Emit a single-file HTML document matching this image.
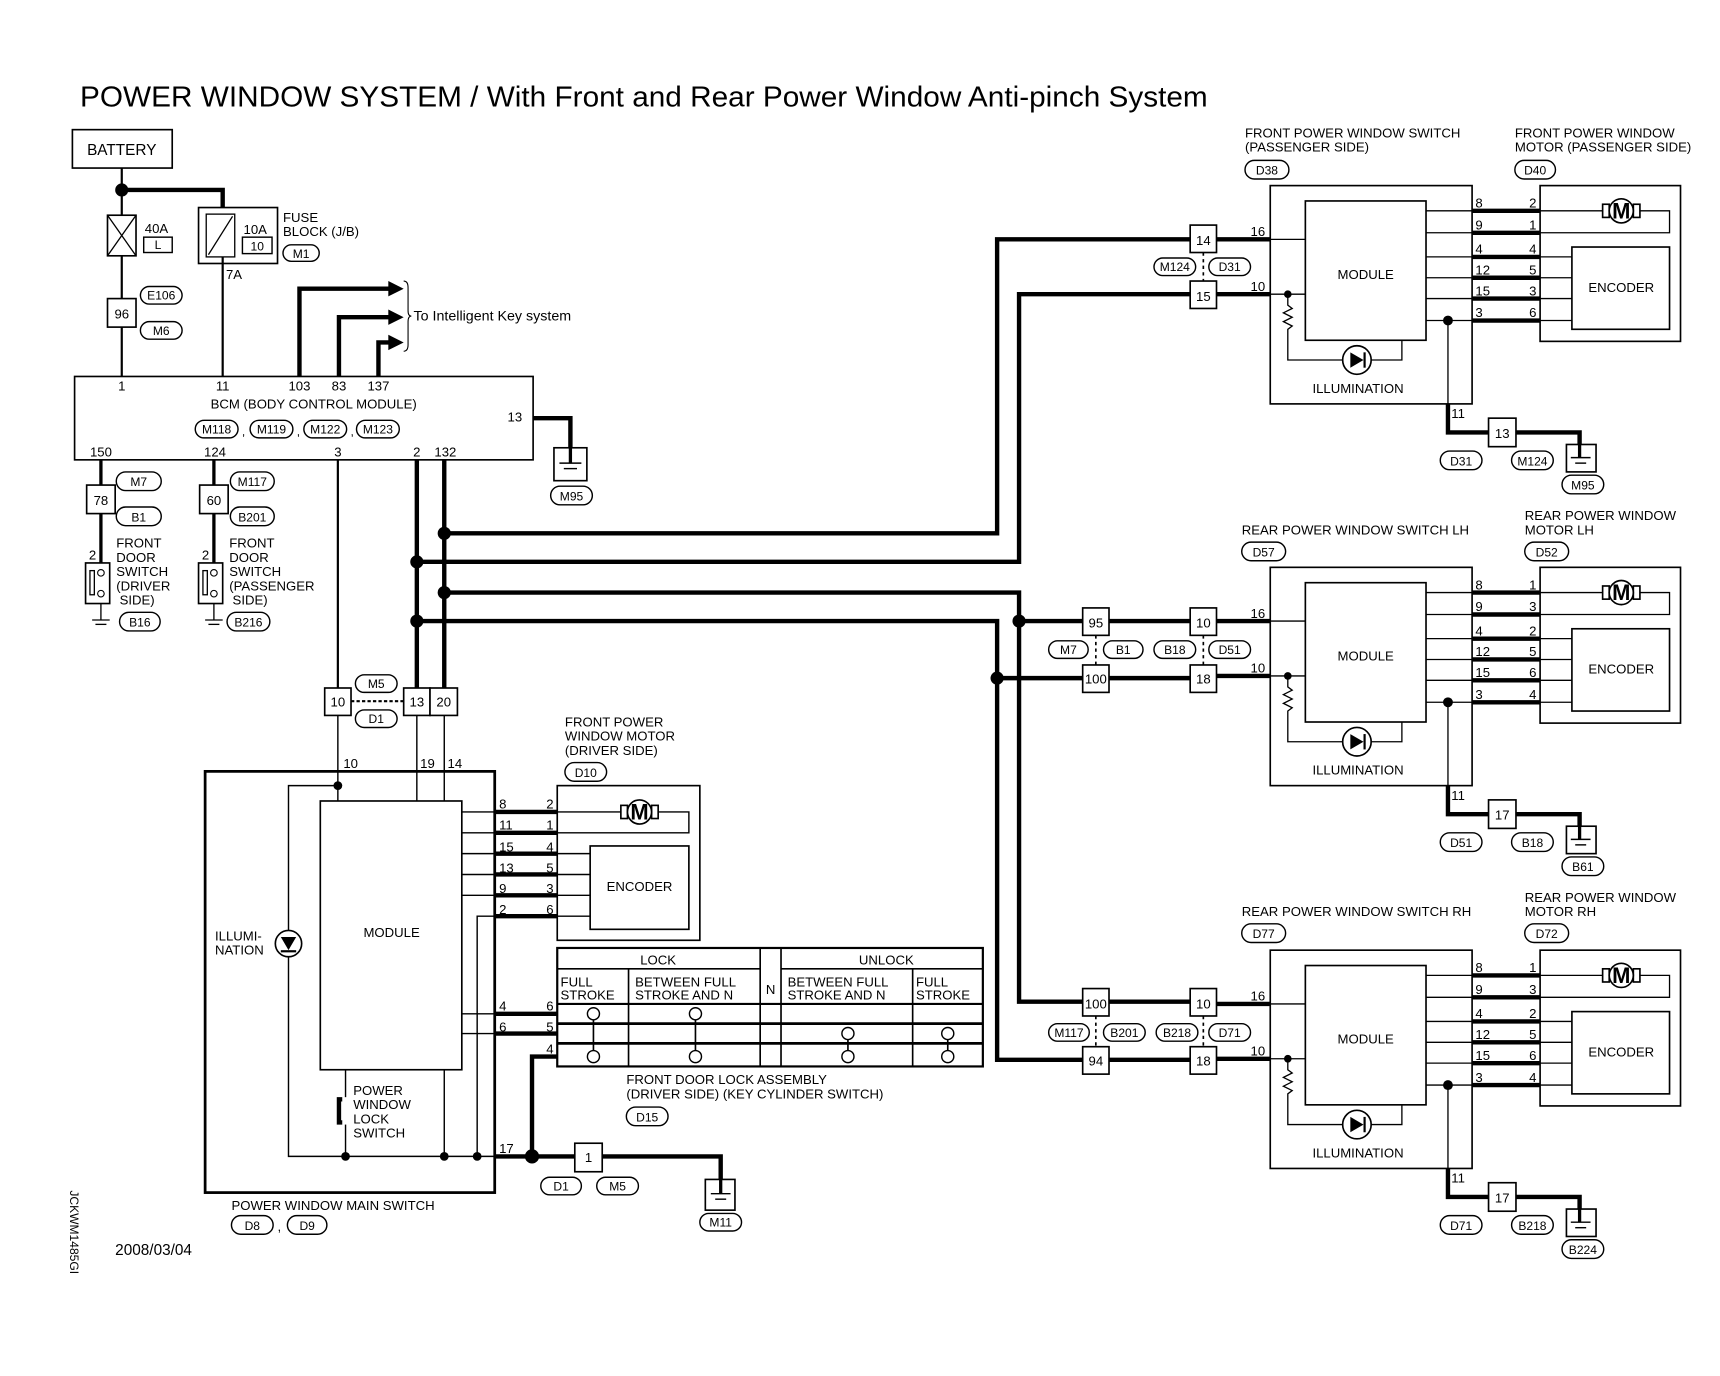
<!DOCTYPE html>
<html><head><meta charset="utf-8"><style>
html,body{margin:0;padding:0;background:#fff;}
svg{display:block;}
text{font-family:"Liberation Sans",Arial,sans-serif;fill:#000;}
</style></head><body>
<svg width="1720" height="1376" viewBox="0 0 1568 1254" xmlns="http://www.w3.org/2000/svg">
<defs>
<g id="sw">
  <rect x="1158" y="169" width="184" height="199" fill="none" stroke="#000" stroke-width="1.5"/>
  <rect x="1190" y="183" width="110" height="127" fill="none" stroke="#000" stroke-width="1.5"/>
  <g stroke="#000" stroke-width="1.2">
    <line x1="1300" y1="192" x2="1342" y2="192"/><line x1="1300" y1="212" x2="1342" y2="212"/>
    <line x1="1300" y1="234" x2="1342" y2="234"/><line x1="1300" y1="253" x2="1342" y2="253"/>
    <line x1="1300" y1="272" x2="1342" y2="272"/><line x1="1300" y1="292" x2="1342" y2="292"/>
    <line x1="1158" y1="218" x2="1190" y2="218"/><line x1="1158" y1="268" x2="1190" y2="268"/>
    <line x1="1404" y1="234" x2="1433" y2="234"/><line x1="1404" y1="253" x2="1433" y2="253"/>
    <line x1="1404" y1="272" x2="1433" y2="272"/><line x1="1404" y1="292" x2="1433" y2="292"/>
    <polyline points="1495,192 1522,192 1522,212 1404,212" fill="none"/>
    <line x1="1404" y1="192" x2="1461" y2="192"/>
    <polyline points="1174,268 1174,278 1178,281 1170,285 1178,289 1170,293 1178,297 1174,300 1174,328 1278,328 1278,310" fill="none"/>
    <line x1="1320" y1="292" x2="1320" y2="370"/>
  </g>
  <g stroke="#000" stroke-width="4">
    <line x1="1342" y1="192" x2="1404" y2="192"/><line x1="1342" y1="212" x2="1404" y2="212"/>
    <line x1="1342" y1="234" x2="1404" y2="234"/><line x1="1342" y1="253" x2="1404" y2="253"/>
    <line x1="1342" y1="272" x2="1404" y2="272"/><line x1="1342" y1="292" x2="1404" y2="292"/>
    <line x1="1109" y1="218" x2="1158" y2="218"/><line x1="1109" y1="268" x2="1158" y2="268"/>
    <polyline points="1320,368 1320,394 1357,394" fill="none"/>
    <polyline points="1382,394 1440,394 1440,416" fill="none"/>
  </g>
  <rect x="1404" y="169" width="128" height="142" fill="none" stroke="#000" stroke-width="1.5"/>
  <rect x="1433" y="225" width="89" height="75" fill="none" stroke="#000" stroke-width="1.5"/>
  <rect x="1461" y="186" width="6" height="12" fill="#fff" stroke="#000" stroke-width="1.5"/>
  <rect x="1489" y="186" width="6" height="12" fill="#fff" stroke="#000" stroke-width="1.5"/>
  <circle cx="1478" cy="192" r="11" fill="#fff" stroke="#000" stroke-width="1.5"/>
  <circle cx="1237" cy="328" r="13" fill="#fff" stroke="#000" stroke-width="1.5"/>
  <polygon points="1231,321 1231,335 1243,328" fill="#000"/>
  <line x1="1244" y1="321" x2="1244" y2="335" stroke="#000" stroke-width="2"/>
  <circle cx="1174" cy="268" r="3.5" fill="#000"/>
  <circle cx="1320" cy="292" r="4.5" fill="#000"/>
  <rect x="1357" y="381" width="25" height="26" fill="#fff" stroke="#000" stroke-width="1.5"/>
  <rect x="1428" y="405" width="27" height="25" fill="#fff" stroke="#000" stroke-width="1.5"/>
  <line x1="1440" y1="405" x2="1440" y2="417" stroke="#000" stroke-width="3"/>
  <line x1="1432" y1="417" x2="1450" y2="417" stroke="#000" stroke-width="1.3"/>
  <line x1="1436" y1="422" x2="1446" y2="422" stroke="#000" stroke-width="1.3"/>
</g>
</defs>

<text x="73" y="97" font-size="26" textLength="1028" lengthAdjust="spacingAndGlyphs">POWER WINDOW SYSTEM / With Front and Rear Power Window Anti-pinch System</text>

<!-- battery & fuses -->
<rect x="66" y="118" width="91" height="35" fill="none" stroke="#000" stroke-width="1.5"/>
<text x="111" y="141" font-size="14" text-anchor="middle">BATTERY</text>
<g stroke="#000" stroke-width="2">
<line x1="111" y1="153" x2="111" y2="196"/>
<line x1="111" y1="233" x2="111" y2="343"/>
<line x1="203" y1="240" x2="203" y2="343"/>
</g>
<polyline points="111,173 203,173 203,189" fill="none" stroke="#000" stroke-width="4"/>
<circle cx="111" cy="173" r="6" fill="#000"/>
<rect x="98" y="196" width="26" height="37" fill="#fff" stroke="#000" stroke-width="1.5"/>
<line x1="98" y1="196" x2="124" y2="233" stroke="#000" stroke-width="1.2"/>
<line x1="124" y1="196" x2="98" y2="233" stroke="#000" stroke-width="1.2"/>
<text x="132" y="212" font-size="12">40A</text>
<rect x="131" y="216" width="26" height="14" fill="none" stroke="#000" stroke-width="1.3"/>
<text x="144" y="227" font-size="11" text-anchor="middle">L</text>
<rect x="181" y="189" width="72" height="51" fill="#fff" stroke="#000" stroke-width="1.5"/>
<rect x="188" y="195" width="26" height="39" fill="none" stroke="#000" stroke-width="1.2"/>
<line x1="190" y1="232" x2="212" y2="197" stroke="#000" stroke-width="1.2"/>
<line x1="203" y1="234" x2="203" y2="240" stroke="#000" stroke-width="2"/>
<text x="222" y="213" font-size="12">10A</text>
<rect x="221" y="216" width="27" height="15" fill="none" stroke="#000" stroke-width="1.3"/>
<text x="234.5" y="228" font-size="11" text-anchor="middle">10</text>
<text x="258" y="202" font-size="12">FUSE</text>
<text x="258" y="215" font-size="12">BLOCK (J/B)</text>
<rect x="258" y="223" width="33" height="15" rx="7.5" fill="none" stroke="#000" stroke-width="1.3"/>
<text x="274.5" y="235" font-size="11" text-anchor="middle">M1</text>
<text x="206" y="254" font-size="12">7A</text>
<rect x="98" y="272" width="26" height="26" fill="#fff" stroke="#000" stroke-width="1.5"/>
<text x="111" y="290" font-size="12" text-anchor="middle">96</text>
<rect x="128" y="261" width="38" height="16" rx="8" fill="none" stroke="#000" stroke-width="1.3"/>
<text x="147" y="273" font-size="11" text-anchor="middle">E106</text>
<rect x="128" y="293" width="38" height="16" rx="8" fill="none" stroke="#000" stroke-width="1.3"/>
<text x="147" y="305" font-size="11" text-anchor="middle">M6</text>

<!-- intelligent key arrows -->
<g fill="none" stroke="#000" stroke-width="4">
<polyline points="273,343 273,263 356,263"/>
<polyline points="309,343 309,289 356,289"/>
<polyline points="345,343 345,312 356,312"/>
</g>
<polygon points="354,256 368,263 354,270" fill="#000"/>
<polygon points="354,282 368,289 354,296" fill="#000"/>
<polygon points="354,305 368,312 354,319" fill="#000"/>
<path d="M368,256 Q372,256 372,262 L372,283 Q372,288 375,288 Q372,288 372,293 L372,314 Q372,320 368,320" fill="none" stroke="#000" stroke-width="1"/>
<text x="377" y="292" font-size="13">To Intelligent Key system</text>

<!-- BCM -->
<rect x="68" y="343" width="418" height="76" fill="#fff" stroke="#000" stroke-width="1.5"/>
<g font-size="12" text-anchor="middle">
<text x="111" y="356">1</text><text x="203" y="356">11</text><text x="273" y="356">103</text><text x="309" y="356">83</text><text x="345" y="356">137</text>
<text x="286" y="372">BCM (BODY CONTROL MODULE)</text>
<text x="92" y="416">150</text><text x="196" y="416">124</text><text x="308" y="416">3</text><text x="380" y="416">2</text><text x="406" y="416">132</text>
</g>
<text x="476" y="384" font-size="12" text-anchor="end">13</text>
<g fill="none" stroke="#000" stroke-width="1.3">
<rect x="178" y="383" width="39" height="16" rx="8"/><rect x="228" y="383" width="39" height="16" rx="8"/>
<rect x="277" y="383" width="39" height="16" rx="8"/><rect x="325" y="383" width="39" height="16" rx="8"/>
</g>
<g font-size="11" text-anchor="middle">
<text x="197.5" y="395">M118</text><text x="247.5" y="395">M119</text><text x="296.5" y="395">M122</text><text x="344.5" y="395">M123</text>
<text x="222" y="397">,</text><text x="272" y="397">,</text><text x="321" y="397">,</text>
</g>
<polyline points="486,381 520,381 520,420" fill="none" stroke="#000" stroke-width="4"/>
<rect x="505" y="408" width="30" height="30" fill="#fff" stroke="#000" stroke-width="1.5"/>
<line x1="520" y1="408" x2="520" y2="422" stroke="#000" stroke-width="3"/>
<line x1="510" y1="422" x2="530" y2="422" stroke="#000" stroke-width="1.3"/>
<line x1="514" y1="427" x2="526" y2="427" stroke="#000" stroke-width="1.3"/>
<rect x="502" y="443" width="38" height="17" rx="8.5" fill="none" stroke="#000" stroke-width="1.3"/>
<text x="521" y="456" font-size="11" text-anchor="middle">M95</text>

<!-- door switches -->
<g stroke="#000" stroke-width="3"><line x1="92" y1="419" x2="92" y2="520"/><line x1="195" y1="419" x2="195" y2="520"/></g>
<g stroke="#000" stroke-width="1.2"><line x1="92" y1="540" x2="92" y2="565"/><line x1="195" y1="540" x2="195" y2="565"/>
<line x1="84" y1="565" x2="100" y2="565"/><line x1="87" y1="569" x2="97" y2="569"/>
<line x1="187" y1="565" x2="203" y2="565"/><line x1="190" y1="569" x2="200" y2="569"/></g>
<rect x="79" y="442" width="26" height="26" fill="#fff" stroke="#000" stroke-width="1.5"/>
<text x="92" y="460" font-size="12" text-anchor="middle">78</text>
<rect x="182" y="442" width="26" height="26" fill="#fff" stroke="#000" stroke-width="1.5"/>
<text x="195" y="460" font-size="12" text-anchor="middle">60</text>
<rect x="78" y="513" width="22" height="37" fill="#fff" stroke="#000" stroke-width="1.5"/>
<rect x="82" y="520" width="4" height="22" fill="none" stroke="#000" stroke-width="1.2"/>
<circle cx="92" cy="522" r="3" fill="#fff" stroke="#000"/><circle cx="92" cy="541" r="3" fill="#fff" stroke="#000"/>
<rect x="181" y="513" width="22" height="37" fill="#fff" stroke="#000" stroke-width="1.5"/>
<rect x="185" y="520" width="4" height="22" fill="none" stroke="#000" stroke-width="1.2"/>
<circle cx="195" cy="522" r="3" fill="#fff" stroke="#000"/><circle cx="195" cy="541" r="3" fill="#fff" stroke="#000"/>
<text x="81" y="510" font-size="12">2</text><text x="184" y="510" font-size="12">2</text>
<g font-size="12">
<text x="106" y="499">FRONT</text><text x="106" y="512">DOOR</text><text x="106" y="525">SWITCH</text><text x="106" y="538">(DRIVER</text><text x="109" y="551">SIDE)</text>
<text x="209" y="499">FRONT</text><text x="209" y="512">DOOR</text><text x="209" y="525">SWITCH</text><text x="209" y="538">(PASSENGER</text><text x="212" y="551">SIDE)</text>
</g>
<g fill="none" stroke="#000" stroke-width="1.3">
<rect x="106" y="430" width="41" height="17" rx="8.5"/><rect x="106" y="462" width="41" height="17" rx="8.5"/>
<rect x="210" y="430" width="40" height="17" rx="8.5"/><rect x="210" y="462" width="40" height="17" rx="8.5"/>
<rect x="109" y="558" width="37" height="17" rx="8.5"/><rect x="207" y="558" width="39" height="17" rx="8.5"/>
</g>
<g font-size="11" text-anchor="middle">
<text x="126.5" y="443">M7</text><text x="126.5" y="475">B1</text><text x="230" y="443">M117</text><text x="230" y="475">B201</text>
<text x="127.5" y="571">B16</text><text x="226.5" y="571">B216</text>
</g>

<!-- bus wires -->
<g fill="none" stroke="#000" stroke-width="4">
<line x1="380" y1="419" x2="380" y2="627"/>
<line x1="405" y1="419" x2="405" y2="627"/>
<polyline points="405,486 909,486 909,218 1085,218"/>
<polyline points="380,512 929,512 929,268 1085,268"/>
<polyline points="405,540 929,540 929,913 987,913"/>
<polyline points="380,566 909,566 909,966 987,966"/>
<line x1="929" y1="566" x2="987" y2="566"/>
<line x1="909" y1="618" x2="987" y2="618"/>
<line x1="1011" y1="566" x2="1085" y2="566"/><line x1="1011" y1="618" x2="1085" y2="618"/>
<line x1="1011" y1="913" x2="1085" y2="913"/><line x1="1011" y1="966" x2="1085" y2="966"/>
</g>
<line x1="308" y1="419" x2="308" y2="627" stroke="#000" stroke-width="2"/>
<g fill="#000">
<circle cx="405" cy="486" r="6"/><circle cx="380" cy="512" r="6"/><circle cx="405" cy="540" r="6"/><circle cx="380" cy="566" r="6"/>
<circle cx="929" cy="566" r="6"/><circle cx="909" cy="618" r="6"/>
</g>

<!-- connector pairs right -->
<g fill="#fff" stroke="#000" stroke-width="1.5">
<rect x="1085" y="205" width="24" height="25"/><rect x="1085" y="256" width="24" height="25"/>
<rect x="987" y="554" width="24" height="25"/><rect x="987" y="606" width="24" height="25"/>
<rect x="1085" y="554" width="24" height="25"/><rect x="1085" y="606" width="24" height="25"/>
<rect x="987" y="901" width="24" height="25"/><rect x="987" y="954" width="24" height="25"/>
<rect x="1085" y="901" width="24" height="25"/><rect x="1085" y="954" width="24" height="25"/>
</g>
<g stroke="#000" stroke-width="1.5" stroke-dasharray="3,3">
<line x1="1097" y1="230" x2="1097" y2="256"/><line x1="999" y1="579" x2="999" y2="606"/><line x1="1097" y1="579" x2="1097" y2="606"/>
<line x1="999" y1="926" x2="999" y2="954"/><line x1="1097" y1="926" x2="1097" y2="954"/>
</g>
<g font-size="12" text-anchor="middle">
<text x="1097" y="223">14</text><text x="1097" y="274">15</text>
<text x="999" y="572">95</text><text x="999" y="623">100</text><text x="1097" y="572">10</text><text x="1097" y="623">18</text>
<text x="999" y="919">100</text><text x="999" y="971">94</text><text x="1097" y="919">10</text><text x="1097" y="971">18</text>
</g>
<g fill="none" stroke="#000" stroke-width="1.3">
<rect x="1052" y="235" width="38" height="16" rx="8"/><rect x="1102" y="235" width="38" height="16" rx="8"/>
<rect x="956" y="584" width="36" height="16" rx="8"/><rect x="1006" y="584" width="36" height="16" rx="8"/>
<rect x="1052" y="584" width="38" height="16" rx="8"/><rect x="1102" y="584" width="38" height="16" rx="8"/>
<rect x="956" y="933" width="37" height="16" rx="8"/><rect x="1006" y="933" width="38" height="16" rx="8"/>
<rect x="1054" y="933" width="38" height="16" rx="8"/><rect x="1102" y="933" width="38" height="16" rx="8"/>
</g>
<g font-size="11" text-anchor="middle">
<text x="1071" y="247">M124</text><text x="1121" y="247">D31</text>
<text x="974" y="596">M7</text><text x="1024" y="596">B1</text><text x="1071" y="596">B18</text><text x="1121" y="596">D51</text>
<text x="974.5" y="945">M117</text><text x="1025" y="945">B201</text><text x="1073" y="945">B218</text><text x="1121" y="945">D71</text>
</g>

<!-- switch groups -->
<use href="#sw"/>
<use href="#sw" transform="translate(0,348)"/>
<use href="#sw" transform="translate(0,697)"/>

<g font-size="12">
<text x="1135" y="125">FRONT POWER WINDOW SWITCH</text><text x="1135" y="138">(PASSENGER SIDE)</text>
<text x="1381" y="125">FRONT POWER WINDOW</text><text x="1381" y="138">MOTOR (PASSENGER SIDE)</text>
<text x="1132" y="487">REAR POWER WINDOW SWITCH LH</text>
<text x="1390" y="474">REAR POWER WINDOW</text><text x="1390" y="487">MOTOR LH</text>
<text x="1132" y="835">REAR POWER WINDOW SWITCH RH</text>
<text x="1390" y="822">REAR POWER WINDOW</text><text x="1390" y="835">MOTOR RH</text>
</g>
<g fill="none" stroke="#000" stroke-width="1.3">
<rect x="1135" y="146" width="40" height="17" rx="8.5"/><rect x="1381" y="146" width="37" height="17" rx="8.5"/>
<rect x="1132" y="494" width="40" height="17" rx="8.5"/><rect x="1390" y="494" width="40" height="17" rx="8.5"/>
<rect x="1132" y="842" width="40" height="17" rx="8.5"/><rect x="1390" y="842" width="40" height="17" rx="8.5"/>
<rect x="1313" y="411" width="38" height="17" rx="8.5"/><rect x="1378" y="411" width="38" height="17" rx="8.5"/><rect x="1424" y="433" width="38" height="17" rx="8.5"/>
<rect x="1313" y="759" width="38" height="17" rx="8.5"/><rect x="1378" y="759" width="38" height="17" rx="8.5"/><rect x="1424" y="781" width="38" height="17" rx="8.5"/>
<rect x="1313" y="1108" width="38" height="17" rx="8.5"/><rect x="1378" y="1108" width="38" height="17" rx="8.5"/><rect x="1424" y="1130" width="38" height="17" rx="8.5"/>
</g>
<g font-size="11" text-anchor="middle">
<text x="1155" y="159">D38</text><text x="1399.5" y="159">D40</text>
<text x="1152" y="507">D57</text><text x="1410" y="507">D52</text>
<text x="1152" y="855">D77</text><text x="1410" y="855">D72</text>
<text x="1332" y="424">D31</text><text x="1397" y="424">M124</text><text x="1443" y="446">M95</text>
<text x="1332" y="772">D51</text><text x="1397" y="772">B18</text><text x="1443" y="794">B61</text>
<text x="1332" y="1121">D71</text><text x="1397" y="1121">B218</text><text x="1443" y="1143">B224</text>
</g>
<g font-size="12">
<text x="1245" y="254" text-anchor="middle">MODULE</text><text x="1478" y="266" text-anchor="middle">ENCODER</text>
<text x="1238" y="358" text-anchor="middle">ILLUMINATION</text>
<text x="1140" y="215">16</text><text x="1140" y="265">10</text>
<text x="1323" y="381">11</text><text x="1369.5" y="399" text-anchor="middle">13</text>
<text x="1345" y="189">8</text><text x="1345" y="209">9</text><text x="1345" y="231">4</text><text x="1345" y="250">12</text><text x="1345" y="269">15</text><text x="1345" y="289">3</text>
<text x="1394" y="189">2</text><text x="1394" y="209">1</text><text x="1394" y="231">4</text><text x="1394" y="250">5</text><text x="1394" y="269">3</text><text x="1394" y="289">6</text>
<text x="1245" y="602" text-anchor="middle">MODULE</text><text x="1478" y="614" text-anchor="middle">ENCODER</text>
<text x="1238" y="706" text-anchor="middle">ILLUMINATION</text>
<text x="1140" y="563">16</text><text x="1140" y="613">10</text>
<text x="1323" y="729">11</text><text x="1369.5" y="747" text-anchor="middle">17</text>
<text x="1345" y="537">8</text><text x="1345" y="557">9</text><text x="1345" y="579">4</text><text x="1345" y="598">12</text><text x="1345" y="617">15</text><text x="1345" y="637">3</text>
<text x="1394" y="537">1</text><text x="1394" y="557">3</text><text x="1394" y="579">2</text><text x="1394" y="598">5</text><text x="1394" y="617">6</text><text x="1394" y="637">4</text>
<text x="1245" y="951" text-anchor="middle">MODULE</text><text x="1478" y="963" text-anchor="middle">ENCODER</text>
<text x="1238" y="1055" text-anchor="middle">ILLUMINATION</text>
<text x="1140" y="912">16</text><text x="1140" y="962">10</text>
<text x="1323" y="1078">11</text><text x="1369.5" y="1096" text-anchor="middle">17</text>
<text x="1345" y="886">8</text><text x="1345" y="906">9</text><text x="1345" y="928">4</text><text x="1345" y="947">12</text><text x="1345" y="966">15</text><text x="1345" y="986">3</text>
<text x="1394" y="886">1</text><text x="1394" y="906">3</text><text x="1394" y="928">2</text><text x="1394" y="947">5</text><text x="1394" y="966">6</text><text x="1394" y="986">4</text>
</g>
<g font-size="20" font-weight="bold" text-anchor="middle">
<text x="1478" y="199">M</text><text x="1478" y="547">M</text><text x="1478" y="896">M</text>
</g>

<!-- main switch connector -->
<line x1="380" y1="652" x2="380" y2="730" stroke="#000" stroke-width="1.3"/>
<line x1="405" y1="652" x2="405" y2="730" stroke="#000" stroke-width="1.3"/>
<line x1="308" y1="652" x2="308" y2="730" stroke="#000" stroke-width="1.3"/>
<g fill="#fff" stroke="#000" stroke-width="1.5">
<rect x="296" y="627" width="24" height="25"/><rect x="368" y="627" width="24" height="25"/><rect x="392" y="627" width="25" height="25"/>
</g>
<line x1="320" y1="639" x2="368" y2="639" stroke="#000" stroke-width="2" stroke-dasharray="3,2"/>
<g font-size="12" text-anchor="middle"><text x="308" y="644">10</text><text x="380" y="644">13</text><text x="404.5" y="644">20</text></g>
<g fill="none" stroke="#000" stroke-width="1.3"><rect x="324" y="615" width="38" height="16" rx="8"/><rect x="324" y="647" width="38" height="16" rx="8"/></g>
<g font-size="11" text-anchor="middle"><text x="343" y="627">M5</text><text x="343" y="659">D1</text></g>
<g font-size="12"><text x="313" y="700">10</text><text x="383" y="700">19</text><text x="408" y="700">14</text></g>

<!-- main switch -->
<rect x="187" y="703" width="264" height="384" fill="none" stroke="#000" stroke-width="2.5"/>
<rect x="292" y="730" width="129" height="245" fill="#fff" stroke="#000" stroke-width="1.5"/>
<text x="357" y="854" font-size="12" text-anchor="middle">MODULE</text>
<g fill="none" stroke="#000" stroke-width="1.3">
<polyline points="308,716 263,716 263,1054 485,1054"/>
<line x1="421" y1="740" x2="451" y2="740"/><line x1="421" y1="759" x2="451" y2="759"/><line x1="421" y1="778" x2="451" y2="778"/>
<line x1="421" y1="797" x2="451" y2="797"/><line x1="421" y1="816" x2="451" y2="816"/>
<polyline points="435,1054 435,835 451,835"/>
<line x1="421" y1="924" x2="451" y2="924"/><line x1="421" y1="942" x2="451" y2="942"/>
<line x1="405" y1="975" x2="405" y2="1054"/>
<polyline points="315,975 315,1000"/><line x1="315" y1="1025" x2="315" y2="1054"/>
<line x1="508" y1="778" x2="538" y2="778"/><line x1="508" y1="797" x2="538" y2="797"/><line x1="508" y1="816" x2="538" y2="816"/><line x1="508" y1="835" x2="538" y2="835"/>
<line x1="508" y1="740" x2="570" y2="740"/><polyline points="596,740 628,740 628,759 508,759"/>
</g>
<g stroke="#000" stroke-width="4" fill="none">
<line x1="451" y1="740" x2="508" y2="740"/><line x1="451" y1="759" x2="508" y2="759"/><line x1="451" y1="778" x2="508" y2="778"/>
<line x1="451" y1="797" x2="508" y2="797"/><line x1="451" y1="816" x2="508" y2="816"/><line x1="451" y1="835" x2="508" y2="835"/>
<line x1="451" y1="924" x2="508" y2="924"/><line x1="451" y1="942" x2="508" y2="942"/>
<polyline points="508,963 485,963 485,1054"/>
<line x1="451" y1="1054" x2="524" y2="1054"/>
<polyline points="549,1054 657,1054 657,1088"/>
<polyline points="312,1002 309,1002 309,1023 312,1023"/>
</g>
<g fill="#000"><circle cx="308" cy="716" r="4"/><circle cx="315" cy="1054" r="4"/><circle cx="405" cy="1054" r="4"/><circle cx="435" cy="1054" r="4"/><circle cx="485" cy="1054" r="6.5"/></g>
<circle cx="263" cy="860" r="12" fill="#fff" stroke="#000" stroke-width="1.5"/>
<polygon points="256,854 270,854 263,866" fill="#000"/>
<line x1="256" y1="867" x2="270" y2="867" stroke="#000" stroke-width="2"/>
<g font-size="12"><text x="196" y="857">ILLUMI-</text><text x="196" y="870">NATION</text>
<text x="322" y="998">POWER</text><text x="322" y="1011">WINDOW</text><text x="322" y="1024">LOCK</text><text x="322" y="1037">SWITCH</text>
<text x="455" y="737">8</text><text x="455" y="756">11</text><text x="455" y="776">15</text><text x="455" y="795">13</text><text x="455" y="814">9</text><text x="455" y="833">2</text>
<text x="498" y="737">2</text><text x="498" y="756">1</text><text x="498" y="776">4</text><text x="498" y="795">5</text><text x="498" y="814">3</text><text x="498" y="833">6</text>
<text x="455" y="921">4</text><text x="455" y="940">6</text>
<text x="498" y="921">6</text><text x="498" y="940">5</text><text x="498" y="960">4</text>
<text x="455" y="1051">17</text>
<text x="211" y="1103">POWER WINDOW MAIN SWITCH</text>
<text x="515" y="662">FRONT POWER</text><text x="515" y="675">WINDOW MOTOR</text><text x="515" y="688">(DRIVER SIDE)</text>
<text x="571" y="988">FRONT DOOR LOCK ASSEMBLY</text><text x="571" y="1001">(DRIVER SIDE) (KEY CYLINDER SWITCH)</text>
<text x="583" y="812" text-anchor="middle">ENCODER</text>
</g>
<rect x="508" y="716" width="130" height="141" fill="none" stroke="#000" stroke-width="1.5"/>
<rect x="538" y="771" width="90" height="76" fill="none" stroke="#000" stroke-width="1.5"/>
<rect x="566" y="734" width="6" height="12" fill="#fff" stroke="#000" stroke-width="1.5"/>
<rect x="594" y="734" width="6" height="12" fill="#fff" stroke="#000" stroke-width="1.5"/>
<circle cx="583" cy="740" r="11" fill="#fff" stroke="#000" stroke-width="1.5"/>
<text x="583" y="747" font-size="20" font-weight="bold" text-anchor="middle">M</text>
<g fill="none" stroke="#000" stroke-width="1.3">
<rect x="515" y="695" width="38" height="17" rx="8.5"/>
<rect x="571" y="1009" width="38" height="17" rx="8.5"/>
<rect x="493" y="1073" width="37" height="16" rx="8"/><rect x="544" y="1073" width="38" height="16" rx="8"/>
<rect x="638" y="1106" width="38" height="16" rx="8"/>
<rect x="211" y="1108" width="38" height="17" rx="8.5"/><rect x="262" y="1108" width="36" height="17" rx="8.5"/>
</g>
<g font-size="11" text-anchor="middle">
<text x="534" y="708">D10</text><text x="590" y="1022">D15</text><text x="511.5" y="1085">D1</text><text x="563" y="1085">M5</text>
<text x="657" y="1118">M11</text><text x="230" y="1121">D8</text><text x="280" y="1121">D9</text>
</g>
<text x="253" y="1122" font-size="12">,</text>
<rect x="524" y="1042" width="25" height="26" fill="#fff" stroke="#000" stroke-width="1.5"/>
<text x="536.5" y="1059" font-size="12" text-anchor="middle">1</text>
<rect x="643" y="1075" width="27" height="28" fill="#fff" stroke="#000" stroke-width="1.5"/>
<line x1="657" y1="1075" x2="657" y2="1088" stroke="#000" stroke-width="3"/>
<line x1="648" y1="1088" x2="666" y2="1088" stroke="#000" stroke-width="1.3"/>
<line x1="652" y1="1093" x2="662" y2="1093" stroke="#000" stroke-width="1.3"/>

<!-- lock table -->
<g fill="none" stroke="#000" stroke-width="1.5">
<rect x="508" y="864" width="388" height="108" stroke-width="2"/>
<line x1="508" y1="883" x2="693" y2="883"/><line x1="712" y1="883" x2="896" y2="883"/>
<line x1="508" y1="915" x2="896" y2="915" stroke-width="2"/>
<line x1="508" y1="933" x2="896" y2="933" stroke-width="2.5"/>
<line x1="508" y1="951" x2="896" y2="951" stroke-width="2.5"/>
<line x1="693" y1="864" x2="693" y2="972"/><line x1="712" y1="864" x2="712" y2="972"/>
<line x1="573" y1="883" x2="573" y2="972"/><line x1="832" y1="883" x2="832" y2="972"/>
<line x1="541" y1="924" x2="541" y2="963"/><line x1="634" y1="924" x2="634" y2="963"/>
<line x1="773" y1="942" x2="773" y2="963"/><line x1="864" y1="942" x2="864" y2="963"/>
</g>
<g fill="#fff" stroke="#000" stroke-width="1.3">
<circle cx="541" cy="924" r="5.5"/><circle cx="634" cy="924" r="5.5"/>
<circle cx="773" cy="942" r="5.5"/><circle cx="864" cy="942" r="5.5"/>
<circle cx="541" cy="963" r="5.5"/><circle cx="634" cy="963" r="5.5"/><circle cx="773" cy="963" r="5.5"/><circle cx="864" cy="963" r="5.5"/>
</g>
<g font-size="12">
<text x="600" y="879" text-anchor="middle">LOCK</text><text x="808" y="879" text-anchor="middle">UNLOCK</text>
<text x="702.5" y="906" text-anchor="middle">N</text>
<text x="511" y="899">FULL</text><text x="511" y="911">STROKE</text>
<text x="579" y="899">BETWEEN FULL</text><text x="579" y="911">STROKE AND N</text>
<text x="718" y="899">BETWEEN FULL</text><text x="718" y="911">STROKE AND N</text>
<text x="835" y="899">FULL</text><text x="835" y="911">STROKE</text>
</g>

<text x="105" y="1144" font-size="14">2008/03/04</text>
<text transform="translate(64,1085) rotate(90)" font-size="11">JCKWM1485GI</text>
</svg>
</body></html>
